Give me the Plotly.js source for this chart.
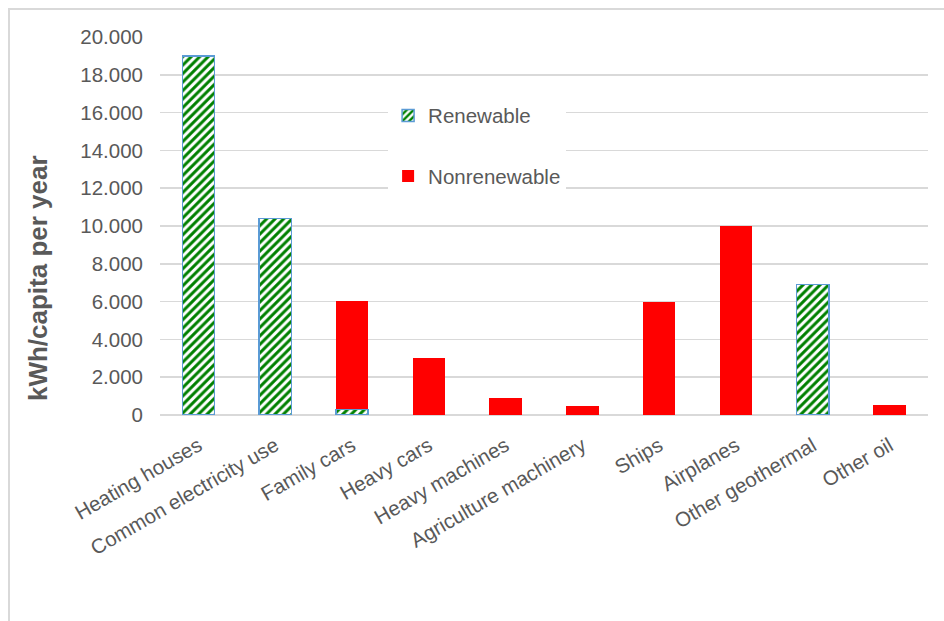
<!DOCTYPE html>
<html>
<head>
<meta charset="utf-8">
<script src="https://cdn.plot.ly/plotly-3.0.1.min.js"></script>
<style>
  html, body { margin: 0; padding: 0; background: #ffffff; }
  #wrap { position: relative; width: 944px; height: 621px; overflow: hidden; }
  #chart { position: absolute; left: 0; top: 0; width: 944px; height: 621px; }
  #frame { position: absolute; left: 8px; top: 8px; width: 960px; height: 640px;
           border-left: 2px solid #d9d9d9; border-top: 2px solid #d9d9d9; pointer-events: none; }
</style>
</head>
<body>
<div id="wrap">
  <div id="chart"></div>
  <div id="frame"></div>
</div>
<script>
const categories = ["Heating houses", "Common electricity use", "Family cars", "Heavy cars",
  "Heavy machines", "Agriculture machinery", "Ships", "Airplanes", "Other geothermal", "Other oil"];
const renewable = [19000, 10400, 300, 0, 0, 0, 0, 0, 6900, 0];
const nonrenewable = [0, 0, 5750, 3000, 900, 500, 6000, 10000, 0, 550];
const yTicks = [0, 2000, 4000, 6000, 8000, 10000, 12000, 14000, 16000, 18000, 20000];
const yTitle = "kWh/capita per year";

const font = "Liberation Sans, Arial, sans-serif";
const grey = "#595959";

const traces = [
  {
    type: "bar",
    name: "Renewable",
    x: categories,
    y: renewable,
    legendgroup: "r",
    marker: {
      color: "#ffffff",
      pattern: { shape: "/", fgcolor: "#008000", bgcolor: "#ffffff", size: 6, solidity: 0.5 },
      line: { color: "#5B9BD5", width: 1.5 }
    },
    hoverinfo: "x+y"
  },
  {
    type: "bar",
    name: "Nonrenewable",
    x: categories,
    y: nonrenewable,
    legendgroup: "n",
    marker: { color: "#FF0000", line: { width: 0 } },
    hoverinfo: "x+y"
  }
];

const layout = {
  width: 944,
  height: 621,
  margin: { l: 160, r: 16, t: 37, b: 206 },
  paper_bgcolor: "#ffffff",
  plot_bgcolor: "#ffffff",
  barmode: "stack",
  bargap: 0.58,
  separators: ",.",
  font: { family: font, size: 20, color: grey },
  showlegend: true,
  legend: {
    x: 0.297, y: 0.845, xanchor: "left", yanchor: "top",
    bgcolor: "#ffffff",
    traceorder: "grouped",
    tracegroupgap: 31,
    font: { family: font, size: 20.5, color: grey }
  },
  xaxis: {
    type: "category",
    tickangle: -30,
    tickfont: { family: font, size: 20.5, color: grey },
    showgrid: false,
    showline: false,
    ticks: "",
    ticklabelstandoff: 14,
    automargin: false
  },
  yaxis: {
    range: [0, 20000],
    tickvals: yTicks,
    tickformat: ",d",
    tickfont: { family: font, size: 20.5, color: grey },
    showgrid: true,
    gridcolor: "#d9d9d9",
    gridwidth: 1.5,
    zeroline: true,
    zerolinecolor: "#d9d9d9",
    zerolinewidth: 1.5,
    showline: false,
    ticks: "",
    ticklabelstandoff: 16,
    automargin: false
  },
  annotations: [
    {
      text: "<b>" + yTitle + "</b>",
      xref: "paper", yref: "paper",
      x: -0.159, y: 0.362,
      xanchor: "center", yanchor: "middle",
      textangle: -90,
      showarrow: false,
      font: { family: font, size: 26, color: grey }
    }
  ]
};

Plotly.newPlot("chart", traces, layout, { displayModeBar: false, staticPlot: true });
</script>
</body>
</html>
